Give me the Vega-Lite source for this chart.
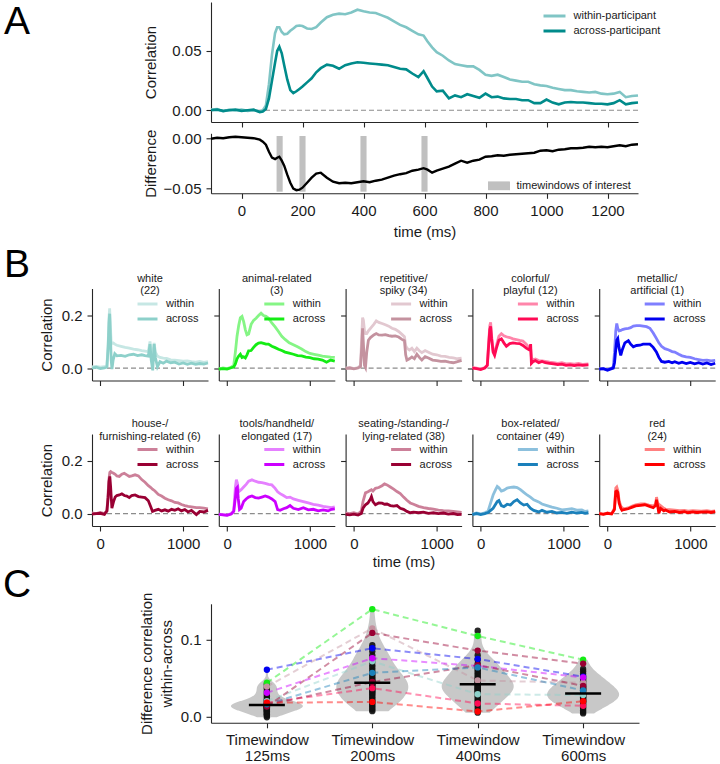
{
"$schema": "https://vega.github.io/schema/vega-lite/v6.json",
"padding": {"left": 2, "top": 2, "right": 0, "bottom": 0},
"background": "white",
"config": {
  "font": "Liberation Sans",
  "view": {"stroke": null},
  "axis": {"grid": false, "domainColor": "#262626", "tickColor": "#262626", "labelColor": "#1a1a1a", "titleColor": "#1a1a1a", "labelFontSize": 15, "titleFontSize": 15, "titleFontWeight": "normal", "tickSize": 5, "tickWidth": 1.1, "domainWidth": 1.1, "labelPadding": 5, "labelFlush": false, "labelOverlap": false, "labelBound": false},
  "legend": {"labelFontSize": 11, "labelColor": "#1a1a1a", "symbolStrokeWidth": 3, "rowPadding": 2, "labelOffset": 12, "padding": 0},
  "title": {"fontWeight": "normal", "color": "#1a1a1a"}
},
"datasets": {
  "a": [
    {"t":-100,"w":0.0005,"a":0.0,"d":0.0},{"t":-80,"w":0.001,"a":0.0005,"d":0.001},{"t":-60,"w":-0.001,"a":-0.0005,"d":0.0005},{"t":-40,"w":0.0005,"a":0.0,"d":0.0015},{"t":-20,"w":0.0,"a":0.0005,"d":0.002},{"t":0,"w":0.0005,"a":-0.0005,"d":0.0015},{"t":20,"w":-0.0005,"a":0.0,"d":0.001},{"t":40,"w":0.0,"a":0.0005,"d":0.0005},{"t":60,"w":-0.001,"a":-0.0015,"d":-0.001},{"t":70,"w":0.0,"a":-0.001,"d":-0.003},
    {"t":80,"w":0.004,"a":0.001,"d":-0.006},{"t":90,"w":0.022,"a":0.01,"d":-0.013},{"t":100,"w":0.047,"a":0.025,"d":-0.019},{"t":110,"w":0.065,"a":0.04,"d":-0.0205},{"t":117,"w":0.07,"a":0.05,"d":-0.019},{"t":124,"w":0.07,"a":0.0535,"d":-0.018},{"t":132,"w":0.066,"a":0.048,"d":-0.022},{"t":140,"w":0.064,"a":0.038,"d":-0.027},{"t":150,"w":0.0645,"a":0.026,"d":-0.036},{"t":160,"w":0.067,"a":0.017,"d":-0.044},
    {"t":170,"w":0.069,"a":0.0145,"d":-0.05},{"t":180,"w":0.071,"a":0.016,"d":-0.0515},{"t":190,"w":0.0715,"a":0.018,"d":-0.051},{"t":200,"w":0.071,"a":0.02,"d":-0.049},{"t":215,"w":0.069,"a":0.0235,"d":-0.044},{"t":230,"w":0.0685,"a":0.027,"d":-0.039},{"t":245,"w":0.07,"a":0.032,"d":-0.035},{"t":260,"w":0.074,"a":0.0355,"d":-0.034},{"t":280,"w":0.0785,"a":0.0385,"d":-0.039},{"t":300,"w":0.0805,"a":0.0375,"d":-0.043},
    {"t":320,"w":0.0815,"a":0.035,"d":-0.0445},{"t":340,"w":0.081,"a":0.038,"d":-0.044},{"t":360,"w":0.0825,"a":0.0395,"d":-0.0445},{"t":380,"w":0.0848,"a":0.0405,"d":-0.0435},{"t":400,"w":0.0835,"a":0.04,"d":-0.0425},{"t":420,"w":0.0825,"a":0.0395,"d":-0.0435},{"t":440,"w":0.082,"a":0.039,"d":-0.042},{"t":460,"w":0.08,"a":0.0385,"d":-0.041},{"t":480,"w":0.078,"a":0.038,"d":-0.039},{"t":500,"w":0.075,"a":0.0365,"d":-0.037},
    {"t":520,"w":0.072,"a":0.035,"d":-0.0355},{"t":540,"w":0.07,"a":0.0345,"d":-0.0345},{"t":560,"w":0.067,"a":0.031,"d":-0.032},{"t":580,"w":0.064,"a":0.028,"d":-0.031},{"t":597,"w":0.063,"a":0.033,"d":-0.0295},{"t":610,"w":0.058,"a":0.027,"d":-0.031},{"t":625,"w":0.053,"a":0.02,"d":-0.034},{"t":640,"w":0.049,"a":0.016,"d":-0.032},{"t":660,"w":0.046,"a":0.0165,"d":-0.03},{"t":680,"w":0.042,"a":0.01,"d":-0.028},
    {"t":700,"w":0.039,"a":0.0125,"d":-0.025},{"t":720,"w":0.038,"a":0.011,"d":-0.022},{"t":740,"w":0.037,"a":0.0135,"d":-0.024},{"t":760,"w":0.037,"a":0.012,"d":-0.022},{"t":780,"w":0.034,"a":0.0105,"d":-0.021},{"t":800,"w":0.03,"a":0.014,"d":-0.018},{"t":820,"w":0.029,"a":0.011,"d":-0.0175},{"t":840,"w":0.03,"a":0.0115,"d":-0.0165},{"t":860,"w":0.028,"a":0.01,"d":-0.017},{"t":880,"w":0.026,"a":0.0095,"d":-0.016},
    {"t":900,"w":0.025,"a":0.0095,"d":-0.0155},{"t":920,"w":0.024,"a":0.0085,"d":-0.015},{"t":940,"w":0.024,"a":0.0085,"d":-0.0145},{"t":960,"w":0.022,"a":0.006,"d":-0.014},{"t":980,"w":0.021,"a":0.006,"d":-0.012},{"t":1000,"w":0.0205,"a":0.009,"d":-0.0115},{"t":1020,"w":0.019,"a":0.0065,"d":-0.0125},{"t":1040,"w":0.018,"a":0.005,"d":-0.011},{"t":1060,"w":0.017,"a":0.0065,"d":-0.0105},{"t":1080,"w":0.017,"a":0.007,"d":-0.0095},
    {"t":1100,"w":0.016,"a":0.0065,"d":-0.0095},{"t":1120,"w":0.0155,"a":0.0065,"d":-0.009},{"t":1140,"w":0.015,"a":0.006,"d":-0.008},{"t":1160,"w":0.0155,"a":0.0055,"d":-0.0085},{"t":1180,"w":0.014,"a":0.0055,"d":-0.008},{"t":1200,"w":0.0135,"a":0.005,"d":-0.0085},{"t":1220,"w":0.014,"a":0.006,"d":-0.0075},{"t":1240,"w":0.0155,"a":0.0085,"d":-0.0065},{"t":1260,"w":0.011,"a":0.005,"d":-0.0075},{"t":1280,"w":0.012,"a":0.006,"d":-0.006},{"t":1300,"w":0.0125,"a":0.0065,"d":-0.0055}
  ],
  "tw": [
    {"s":115,"e":135,"k":"timewindows of interest"},{"s":190,"e":210,"k":"timewindows of interest"},{"s":390,"e":410,"k":"timewindows of interest"},{"s":590,"e":610,"k":"timewindows of interest"}
  ],
  "letters": [{"l":"A"},{"l":"B"},{"l":"C"}],
  "white": [
    {"t":-100,"w":0.004,"a":0.0},{"t":-50,"w":0.006,"a":0.003},{"t":0,"w":0.003,"a":-0.002},{"t":50,"w":0.005,"a":0.001},{"t":80,"w":0.008,"a":0.004},{"t":95,"w":0.09,"a":0.08},{"t":105,"w":0.19,"a":0.17},{"t":113,"w":0.225,"a":0.205},{"t":122,"w":0.16,"a":0.12},{"t":132,"w":0.09,"a":0.03},{"t":141,"w":0.095,"a":-0.004},{"t":155,"w":0.095,"a":0.03},{"t":175,"w":0.09,"a":0.054},{"t":200,"w":0.086,"a":0.046},{"t":250,"w":0.082,"a":0.048},{"t":300,"w":0.078,"a":0.044},{"t":350,"w":0.075,"a":0.05},{"t":400,"w":0.071,"a":0.052},{"t":450,"w":0.069,"a":0.047},{"t":500,"w":0.066,"a":0.05},{"t":540,"w":0.064,"a":0.047},{"t":580,"w":0.062,"a":0.045},{"t":600,"w":0.1,"a":0.09},{"t":615,"w":0.06,"a":0.03},{"t":633,"w":0.045,"a":-0.009},{"t":650,"w":0.095,"a":0.09},{"t":665,"w":0.06,"a":0.04},{"t":690,"w":0.045,"a":0.005},{"t":720,"w":0.04,"a":0.024},{"t":760,"w":0.037,"a":0.018},{"t":800,"w":0.036,"a":0.026},{"t":850,"w":0.031,"a":0.02},{"t":900,"w":0.03,"a":0.022},{"t":950,"w":0.028,"a":0.015},{"t":1000,"w":0.026,"a":0.019},{"t":1050,"w":0.027,"a":0.014},{"t":1100,"w":0.024,"a":0.018},{"t":1150,"w":0.022,"a":0.014},{"t":1200,"w":0.025,"a":0.017},{"t":1250,"w":0.021,"a":0.015},{"t":1300,"w":0.024,"a":0.019}
  ],
  "animal": [
    {"t":-100,"w":-0.004,"a":-0.004},{"t":-50,"w":0.0,"a":-0.002},{"t":0,"w":-0.002,"a":-0.004},{"t":50,"w":0.003,"a":0.001},{"t":80,"w":0.01,"a":0.004},{"t":100,"w":0.06,"a":0.015},{"t":120,"w":0.12,"a":0.035},{"t":140,"w":0.16,"a":0.045},{"t":160,"w":0.19,"a":0.052},{"t":180,"w":0.195,"a":0.04},{"t":200,"w":0.175,"a":0.042},{"t":220,"w":0.145,"a":0.038},{"t":240,"w":0.125,"a":0.05},{"t":260,"w":0.128,"a":0.065},{"t":290,"w":0.165,"a":0.066},{"t":320,"w":0.18,"a":0.078},{"t":350,"w":0.188,"a":0.088},{"t":380,"w":0.198,"a":0.094},{"t":410,"w":0.207,"a":0.096},{"t":440,"w":0.198,"a":0.093},{"t":470,"w":0.195,"a":0.09},{"t":500,"w":0.188,"a":0.09},{"t":540,"w":0.17,"a":0.082},{"t":580,"w":0.155,"a":0.077},{"t":620,"w":0.138,"a":0.071},{"t":660,"w":0.12,"a":0.066},{"t":700,"w":0.108,"a":0.06},{"t":750,"w":0.095,"a":0.056},{"t":800,"w":0.088,"a":0.052},{"t":850,"w":0.08,"a":0.047},{"t":900,"w":0.072,"a":0.046},{"t":950,"w":0.062,"a":0.041},{"t":1000,"w":0.055,"a":0.039},{"t":1050,"w":0.052,"a":0.035},{"t":1100,"w":0.049,"a":0.034},{"t":1150,"w":0.045,"a":0.03},{"t":1200,"w":0.043,"a":0.022},{"t":1250,"w":0.041,"a":0.03},{"t":1300,"w":0.04,"a":0.026}
  ],
  "repetitive": [
    {"t":-100,"w":0.0,"a":-0.002},{"t":-50,"w":0.002,"a":0.0},{"t":0,"w":-0.002,"a":-0.003},{"t":50,"w":0.002,"a":0.0},{"t":80,"w":0.01,"a":0.005},{"t":95,"w":0.12,"a":0.08},{"t":105,"w":0.19,"a":0.15},{"t":115,"w":0.18,"a":0.09},{"t":128,"w":0.14,"a":0.01},{"t":140,"w":0.13,"a":0.002},{"t":155,"w":0.13,"a":0.06},{"t":175,"w":0.14,"a":0.105},{"t":200,"w":0.15,"a":0.115},{"t":240,"w":0.165,"a":0.125},{"t":270,"w":0.178,"a":0.13},{"t":300,"w":0.172,"a":0.125},{"t":340,"w":0.168,"a":0.124},{"t":380,"w":0.163,"a":0.126},{"t":420,"w":0.158,"a":0.122},{"t":460,"w":0.15,"a":0.12},{"t":500,"w":0.146,"a":0.121},{"t":540,"w":0.138,"a":0.117},{"t":580,"w":0.127,"a":0.108},{"t":610,"w":0.118,"a":0.103},{"t":625,"w":0.085,"a":0.05},{"t":640,"w":0.075,"a":0.03},{"t":670,"w":0.068,"a":0.035},{"t":700,"w":0.075,"a":0.042},{"t":730,"w":0.062,"a":0.035},{"t":760,"w":0.075,"a":0.052},{"t":790,"w":0.065,"a":0.04},{"t":820,"w":0.058,"a":0.03},{"t":860,"w":0.066,"a":0.043},{"t":900,"w":0.06,"a":0.038},{"t":950,"w":0.052,"a":0.03},{"t":1000,"w":0.05,"a":0.028},{"t":1050,"w":0.045,"a":0.025},{"t":1100,"w":0.044,"a":0.026},{"t":1150,"w":0.04,"a":0.022},{"t":1200,"w":0.038,"a":0.02},{"t":1250,"w":0.035,"a":0.024},{"t":1300,"w":0.037,"a":0.029}
  ],
  "colorful": [
    {"t":-100,"w":0.002,"a":0.0},{"t":-50,"w":0.0,"a":-0.002},{"t":0,"w":-0.004,"a":-0.006},{"t":50,"w":0.002,"a":0.0},{"t":80,"w":0.012,"a":0.01},{"t":95,"w":0.09,"a":0.08},{"t":110,"w":0.16,"a":0.145},{"t":120,"w":0.172,"a":0.157},{"t":132,"w":0.12,"a":0.11},{"t":150,"w":0.065,"a":0.06},{"t":168,"w":0.056,"a":0.048},{"t":190,"w":0.085,"a":0.075},{"t":220,"w":0.12,"a":0.105},{"t":250,"w":0.13,"a":0.11},{"t":280,"w":0.122,"a":0.095},{"t":310,"w":0.118,"a":0.082},{"t":350,"w":0.115,"a":0.092},{"t":390,"w":0.11,"a":0.095},{"t":430,"w":0.107,"a":0.093},{"t":470,"w":0.104,"a":0.092},{"t":510,"w":0.102,"a":0.085},{"t":550,"w":0.09,"a":0.075},{"t":590,"w":0.075,"a":0.068},{"t":603,"w":0.072,"a":0.09},{"t":612,"w":0.04,"a":0.018},{"t":630,"w":0.03,"a":0.024},{"t":660,"w":0.034,"a":0.028},{"t":700,"w":0.028,"a":0.02},{"t":740,"w":0.027,"a":0.025},{"t":780,"w":0.025,"a":0.02},{"t":830,"w":0.022,"a":0.018},{"t":880,"w":0.02,"a":0.016},{"t":930,"w":0.018,"a":0.013},{"t":980,"w":0.02,"a":0.015},{"t":1030,"w":0.016,"a":0.01},{"t":1080,"w":0.017,"a":0.012},{"t":1130,"w":0.015,"a":0.009},{"t":1180,"w":0.017,"a":0.012},{"t":1230,"w":0.014,"a":0.01},{"t":1300,"w":0.016,"a":0.012}
  ],
  "metallic": [
    {"t":-100,"w":-0.003,"a":-0.004},{"t":-50,"w":-0.002,"a":-0.002},{"t":0,"w":-0.006,"a":-0.008},{"t":50,"w":0.0,"a":-0.002},{"t":70,"w":0.004,"a":0.0},{"t":85,"w":0.06,"a":0.02},{"t":100,"w":0.14,"a":0.07},{"t":112,"w":0.168,"a":0.105},{"t":124,"w":0.15,"a":0.111},{"t":140,"w":0.14,"a":0.075},{"t":160,"w":0.142,"a":0.048},{"t":180,"w":0.145,"a":0.07},{"t":210,"w":0.148,"a":0.095},{"t":252,"w":0.15,"a":0.103},{"t":280,"w":0.152,"a":0.09},{"t":312,"w":0.158,"a":0.08},{"t":350,"w":0.16,"a":0.085},{"t":392,"w":0.16,"a":0.086},{"t":430,"w":0.158,"a":0.09},{"t":472,"w":0.156,"a":0.09},{"t":512,"w":0.15,"a":0.09},{"t":552,"w":0.132,"a":0.078},{"t":590,"w":0.112,"a":0.061},{"t":620,"w":0.095,"a":0.04},{"t":652,"w":0.082,"a":0.025},{"t":692,"w":0.073,"a":0.022},{"t":740,"w":0.068,"a":0.025},{"t":780,"w":0.062,"a":0.02},{"t":812,"w":0.06,"a":0.024},{"t":860,"w":0.052,"a":0.018},{"t":900,"w":0.046,"a":0.022},{"t":950,"w":0.042,"a":0.017},{"t":1000,"w":0.04,"a":0.021},{"t":1052,"w":0.035,"a":0.016},{"t":1100,"w":0.032,"a":0.02},{"t":1150,"w":0.029,"a":0.015},{"t":1200,"w":0.03,"a":0.019},{"t":1250,"w":0.027,"a":0.013},{"t":1300,"w":0.029,"a":0.018}
  ],
  "house": [
    {"t":-100,"w":0.002,"a":-0.002},{"t":-50,"w":0.0,"a":0.0},{"t":0,"w":0.004,"a":0.001},{"t":50,"w":0.0,"a":-0.003},{"t":80,"w":0.01,"a":0.01},{"t":95,"w":0.08,"a":0.06},{"t":105,"w":0.13,"a":0.12},{"t":115,"w":0.155,"a":0.14},{"t":125,"w":0.158,"a":0.1},{"t":140,"w":0.155,"a":0.02},{"t":160,"w":0.152,"a":0.045},{"t":180,"w":0.148,"a":0.062},{"t":200,"w":0.142,"a":0.068},{"t":230,"w":0.14,"a":0.07},{"t":260,"w":0.148,"a":0.074},{"t":290,"w":0.152,"a":0.068},{"t":320,"w":0.146,"a":0.066},{"t":350,"w":0.14,"a":0.06},{"t":380,"w":0.142,"a":0.068},{"t":420,"w":0.146,"a":0.07},{"t":460,"w":0.142,"a":0.064},{"t":500,"w":0.128,"a":0.062},{"t":540,"w":0.118,"a":0.06},{"t":580,"w":0.105,"a":0.048},{"t":610,"w":0.098,"a":0.025},{"t":630,"w":0.092,"a":0.008},{"t":660,"w":0.085,"a":0.012},{"t":700,"w":0.072,"a":0.016},{"t":740,"w":0.066,"a":0.01},{"t":780,"w":0.058,"a":0.014},{"t":820,"w":0.052,"a":0.009},{"t":860,"w":0.048,"a":0.016},{"t":900,"w":0.042,"a":0.012},{"t":940,"w":0.04,"a":0.018},{"t":980,"w":0.034,"a":0.01},{"t":1020,"w":0.03,"a":0.015},{"t":1060,"w":0.027,"a":0.006},{"t":1100,"w":0.025,"a":0.012},{"t":1160,"w":0.022,"a":-0.004},{"t":1200,"w":0.022,"a":0.008},{"t":1250,"w":0.02,"a":0.006},{"t":1300,"w":0.018,"a":0.012}
  ],
  "tools": [
    {"t":-100,"w":-0.002,"a":-0.003},{"t":-50,"w":-0.004,"a":-0.005},{"t":0,"w":-0.006,"a":-0.007},{"t":50,"w":0.0,"a":-0.002},{"t":80,"w":0.01,"a":0.008},{"t":100,"w":0.1,"a":0.06},{"t":112,"w":0.128,"a":0.095},{"t":124,"w":0.115,"a":0.099},{"t":135,"w":0.09,"a":0.055},{"t":150,"w":0.085,"a":0.015},{"t":170,"w":0.09,"a":0.02},{"t":200,"w":0.1,"a":0.045},{"t":230,"w":0.11,"a":0.055},{"t":260,"w":0.122,"a":0.062},{"t":300,"w":0.127,"a":0.066},{"t":340,"w":0.122,"a":0.06},{"t":380,"w":0.118,"a":0.058},{"t":420,"w":0.117,"a":0.062},{"t":460,"w":0.114,"a":0.066},{"t":500,"w":0.11,"a":0.062},{"t":540,"w":0.108,"a":0.055},{"t":580,"w":0.095,"a":0.045},{"t":610,"w":0.082,"a":0.015},{"t":640,"w":0.075,"a":0.012},{"t":680,"w":0.068,"a":0.018},{"t":720,"w":0.06,"a":0.022},{"t":760,"w":0.062,"a":0.03},{"t":800,"w":0.055,"a":0.02},{"t":860,"w":0.05,"a":0.015},{"t":920,"w":0.045,"a":0.022},{"t":980,"w":0.04,"a":0.014},{"t":1040,"w":0.035,"a":0.016},{"t":1100,"w":0.032,"a":0.01},{"t":1160,"w":0.027,"a":0.014},{"t":1220,"w":0.024,"a":0.01},{"t":1260,"w":0.022,"a":0.016},{"t":1300,"w":0.025,"a":0.018}
  ],
  "seating": [
    {"t":-100,"w":0.002,"a":-0.003},{"t":-50,"w":0.0,"a":-0.005},{"t":0,"w":0.003,"a":-0.002},{"t":50,"w":-0.002,"a":-0.006},{"t":90,"w":0.01,"a":0.0},{"t":110,"w":0.045,"a":0.02},{"t":140,"w":0.078,"a":0.033},{"t":170,"w":0.082,"a":0.04},{"t":200,"w":0.088,"a":0.055},{"t":212,"w":0.09,"a":0.064},{"t":230,"w":0.085,"a":0.045},{"t":260,"w":0.095,"a":0.033},{"t":300,"w":0.098,"a":0.04},{"t":340,"w":0.105,"a":0.039},{"t":370,"w":0.112,"a":0.035},{"t":400,"w":0.108,"a":0.036},{"t":440,"w":0.1,"a":0.03},{"t":480,"w":0.092,"a":0.028},{"t":520,"w":0.083,"a":0.03},{"t":560,"w":0.075,"a":0.02},{"t":600,"w":0.062,"a":0.016},{"t":640,"w":0.05,"a":0.008},{"t":680,"w":0.04,"a":0.003},{"t":720,"w":0.035,"a":0.005},{"t":780,"w":0.027,"a":0.003},{"t":840,"w":0.022,"a":0.005},{"t":900,"w":0.019,"a":0.001},{"t":960,"w":0.017,"a":0.003},{"t":1020,"w":0.013,"a":0.0},{"t":1080,"w":0.011,"a":0.002},{"t":1140,"w":0.01,"a":-0.002},{"t":1200,"w":0.008,"a":0.0},{"t":1250,"w":0.006,"a":-0.004},{"t":1300,"w":0.004,"a":-0.003}
  ],
  "box": [
    {"t":-100,"w":-0.002,"a":-0.004},{"t":-50,"w":0.002,"a":0.0},{"t":0,"w":-0.001,"a":-0.004},{"t":50,"w":0.003,"a":0.0},{"t":90,"w":0.01,"a":0.004},{"t":120,"w":0.04,"a":0.012},{"t":150,"w":0.07,"a":0.02},{"t":180,"w":0.09,"a":0.035},{"t":200,"w":0.102,"a":0.045},{"t":220,"w":0.097,"a":0.049},{"t":250,"w":0.085,"a":0.03},{"t":280,"w":0.088,"a":0.026},{"t":320,"w":0.096,"a":0.035},{"t":360,"w":0.099,"a":0.032},{"t":400,"w":0.1,"a":0.045},{"t":440,"w":0.098,"a":0.052},{"t":480,"w":0.09,"a":0.04},{"t":520,"w":0.08,"a":0.032},{"t":560,"w":0.07,"a":0.035},{"t":600,"w":0.062,"a":0.02},{"t":640,"w":0.052,"a":0.012},{"t":700,"w":0.044,"a":0.006},{"t":740,"w":0.036,"a":0.012},{"t":800,"w":0.03,"a":0.005},{"t":860,"w":0.024,"a":0.008},{"t":920,"w":0.02,"a":0.002},{"t":980,"w":0.014,"a":0.004},{"t":1040,"w":0.016,"a":0.001},{"t":1100,"w":0.018,"a":0.005},{"t":1160,"w":0.013,"a":0.002},{"t":1220,"w":0.014,"a":0.004},{"t":1260,"w":0.008,"a":0.001},{"t":1300,"w":0.01,"a":0.003}
  ],
  "red": [
    {"t":-100,"w":0.002,"a":0.0},{"t":-50,"w":-0.002,"a":-0.003},{"t":0,"w":0.002,"a":0.001},{"t":50,"w":0.0,"a":-0.002},{"t":84,"w":0.02,"a":0.015},{"t":100,"w":0.096,"a":0.083},{"t":112,"w":0.1,"a":0.085},{"t":124,"w":0.088,"a":0.08},{"t":140,"w":0.05,"a":0.04},{"t":160,"w":0.028,"a":0.02},{"t":175,"w":0.022,"a":0.012},{"t":200,"w":0.018,"a":0.015},{"t":250,"w":0.021,"a":0.018},{"t":300,"w":0.028,"a":0.024},{"t":340,"w":0.033,"a":0.029},{"t":400,"w":0.036,"a":0.031},{"t":450,"w":0.036,"a":0.033},{"t":500,"w":0.032,"a":0.028},{"t":552,"w":0.029,"a":0.022},{"t":580,"w":0.035,"a":0.03},{"t":592,"w":0.062,"a":0.052},{"t":605,"w":0.04,"a":0.03},{"t":620,"w":0.035,"a":0.001},{"t":640,"w":0.03,"a":0.02},{"t":680,"w":0.02,"a":0.01},{"t":700,"w":0.016,"a":0.013},{"t":750,"w":0.015,"a":0.006},{"t":812,"w":0.013,"a":0.008},{"t":870,"w":0.011,"a":0.004},{"t":930,"w":0.012,"a":0.007},{"t":972,"w":0.009,"a":0.003},{"t":1030,"w":0.011,"a":0.006},{"t":1080,"w":0.01,"a":0.004},{"t":1132,"w":0.009,"a":0.005},{"t":1200,"w":0.011,"a":0.006},{"t":1250,"w":0.008,"a":0.004},{"t":1300,"w":0.01,"a":0.007}
  ],
  "c": [
    {"d":"white","win":125,"v":0.020},{"d":"white","win":200,"v":0.072},{"d":"white","win":400,"v":0.029},{"d":"white","win":600,"v":0.028},
    {"d":"animal","win":125,"v":0.044},{"d":"animal","win":200,"v":0.140},{"d":"animal","win":400,"v":0.105},{"d":"animal","win":600,"v":0.074},
    {"d":"repetitive","win":125,"v":0.039},{"d":"repetitive","win":200,"v":0.115},{"d":"repetitive","win":400,"v":0.047},{"d":"repetitive","win":600,"v":0.044},
    {"d":"colorful","win":125,"v":0.018},{"d":"colorful","win":200,"v":0.037},{"d":"colorful","win":400,"v":0.017},{"d":"colorful","win":600,"v":0.014},
    {"d":"metallic","win":125,"v":0.061},{"d":"metallic","win":200,"v":0.089},{"d":"metallic","win":400,"v":0.075},{"d":"metallic","win":600,"v":0.052},
    {"d":"house","win":125,"v":0.013},{"d":"house","win":200,"v":0.109},{"d":"house","win":400,"v":0.086},{"d":"house","win":600,"v":0.069},
    {"d":"tools","win":125,"v":0.031},{"d":"tools","win":200,"v":0.076},{"d":"tools","win":400,"v":0.066},{"d":"tools","win":600,"v":0.051},
    {"d":"seating","win":125,"v":0.015},{"d":"seating","win":200,"v":0.045},{"d":"seating","win":400,"v":0.067},{"d":"seating","win":600,"v":0.040},
    {"d":"box","win":125,"v":0.016},{"d":"box","win":200,"v":0.057},{"d":"box","win":400,"v":0.064},{"d":"box","win":600,"v":0.034},
    {"d":"red","win":125,"v":0.018},{"d":"red","win":200,"v":0.019},{"d":"red","win":400,"v":0.0065},{"d":"red","win":600,"v":0.020},
    {"win":125,"v":-0.001},{"win":125,"v":0.001},{"win":125,"v":0.002},{"win":125,"v":0.003},{"win":125,"v":0.004},{"win":125,"v":0.005},{"win":125,"v":0.006},{"win":125,"v":0.007},{"win":125,"v":0.008},{"win":125,"v":0.008},{"win":125,"v":0.009},{"win":125,"v":0.010},{"win":125,"v":0.010},{"win":125,"v":0.011},{"win":125,"v":0.011},{"win":125,"v":0.012},{"win":125,"v":0.012},{"win":125,"v":0.013},{"win":125,"v":0.013},{"win":125,"v":0.014},{"win":125,"v":0.014},{"win":125,"v":0.014},{"win":125,"v":0.015},{"win":125,"v":0.016},{"win":125,"v":0.017},{"win":125,"v":0.018},{"win":125,"v":0.019},{"win":125,"v":0.020},{"win":125,"v":0.021},{"win":125,"v":0.022},{"win":125,"v":0.024},{"win":125,"v":0.026},{"win":125,"v":0.028},{"win":125,"v":0.030},{"win":125,"v":0.033},{"win":125,"v":0.036},{"win":125,"v":0.038},{"win":125,"v":0.041},{"win":125,"v":0.043},
    {"win":200,"v":0.007},{"win":200,"v":0.009},{"win":200,"v":0.011},{"win":200,"v":0.013},{"win":200,"v":0.015},{"win":200,"v":0.017},{"win":200,"v":0.019},{"win":200,"v":0.021},{"win":200,"v":0.023},{"win":200,"v":0.025},{"win":200,"v":0.027},{"win":200,"v":0.029},{"win":200,"v":0.031},{"win":200,"v":0.032},{"win":200,"v":0.034},{"win":200,"v":0.035},{"win":200,"v":0.037},{"win":200,"v":0.038},{"win":200,"v":0.040},{"win":200,"v":0.041},{"win":200,"v":0.042},{"win":200,"v":0.043},{"win":200,"v":0.044},{"win":200,"v":0.046},{"win":200,"v":0.047},{"win":200,"v":0.049},{"win":200,"v":0.051},{"win":200,"v":0.053},{"win":200,"v":0.055},{"win":200,"v":0.058},{"win":200,"v":0.061},{"win":200,"v":0.064},{"win":200,"v":0.067},{"win":200,"v":0.071},{"win":200,"v":0.075},{"win":200,"v":0.080},{"win":200,"v":0.085},{"win":200,"v":0.089},{"win":200,"v":0.093},
    {"win":400,"v":0.005},{"win":400,"v":0.008},{"win":400,"v":0.011},{"win":400,"v":0.014},{"win":400,"v":0.017},{"win":400,"v":0.020},{"win":400,"v":0.022},{"win":400,"v":0.024},{"win":400,"v":0.026},{"win":400,"v":0.028},{"win":400,"v":0.030},{"win":400,"v":0.032},{"win":400,"v":0.033},{"win":400,"v":0.034},{"win":400,"v":0.035},{"win":400,"v":0.036},{"win":400,"v":0.037},{"win":400,"v":0.038},{"win":400,"v":0.039},{"win":400,"v":0.040},{"win":400,"v":0.041},{"win":400,"v":0.042},{"win":400,"v":0.043},{"win":400,"v":0.044},{"win":400,"v":0.045},{"win":400,"v":0.046},{"win":400,"v":0.048},{"win":400,"v":0.050},{"win":400,"v":0.052},{"win":400,"v":0.054},{"win":400,"v":0.056},{"win":400,"v":0.058},{"win":400,"v":0.060},{"win":400,"v":0.062},{"win":400,"v":0.065},{"win":400,"v":0.069},{"win":400,"v":0.074},{"win":400,"v":0.080},{"win":400,"v":0.112},
    {"win":600,"v":0.004},{"win":600,"v":0.006},{"win":600,"v":0.008},{"win":600,"v":0.010},{"win":600,"v":0.012},{"win":600,"v":0.014},{"win":600,"v":0.016},{"win":600,"v":0.018},{"win":600,"v":0.019},{"win":600,"v":0.020},{"win":600,"v":0.021},{"win":600,"v":0.022},{"win":600,"v":0.023},{"win":600,"v":0.024},{"win":600,"v":0.025},{"win":600,"v":0.026},{"win":600,"v":0.027},{"win":600,"v":0.028},{"win":600,"v":0.0285},{"win":600,"v":0.029},{"win":600,"v":0.0295},{"win":600,"v":0.030},{"win":600,"v":0.033},{"win":600,"v":0.034},{"win":600,"v":0.035},{"win":600,"v":0.036},{"win":600,"v":0.037},{"win":600,"v":0.038},{"win":600,"v":0.039},{"win":600,"v":0.040},{"win":600,"v":0.042},{"win":600,"v":0.044},{"win":600,"v":0.046},{"win":600,"v":0.048},{"win":600,"v":0.050},{"win":600,"v":0.053},{"win":600,"v":0.056},{"win":600,"v":0.059},{"win":600,"v":0.062}
  ]
},
"hconcat": [
  {
    "vconcat": [
      {"width": 30, "height": 39.6, "data": {"name": "letters"}, "transform": [{"filter": "datum.l == 'A'"}], "mark": {"type": "text", "fontSize": 39, "align": "center", "baseline": "middle", "color": "black"}, "encoding": {"text": {"field": "l"}}},
      {"width": 30, "height": 446.4, "data": {"name": "letters"}, "transform": [{"filter": "datum.l == 'B'"}], "mark": {"type": "text", "fontSize": 39, "align": "center", "baseline": "middle", "color": "black"}, "encoding": {"text": {"field": "l"}}},
      {"width": 30, "height": 191.6, "data": {"name": "letters"}, "transform": [{"filter": "datum.l == 'C'"}], "mark": {"type": "text", "fontSize": 39, "align": "center", "baseline": "middle", "color": "black"}, "encoding": {"text": {"field": "l"}}}
    ],
    "spacing": 0
  },
  {
    "vconcat": [
      {
        "hconcat": [
          {"width": 51, "height": 1, "data": {"values": [{}]}, "mark": {"type": "point", "opacity": 0, "size": 0}},
          {
            "vconcat": [
              {
                "width": 427, "height": 120,
                "layer": [
                  {"data": {"values": [{}]}, "mark": {"type": "rule", "strokeDash": [5, 3], "color": "#8c8c8c", "strokeWidth": 1.2}, "encoding": {"y": {"datum": 0, "type": "quantitative", "scale": {"domain": [-0.0099, 0.0913], "nice": false, "zero": false}}}},
                  {"data": {"name": "a"}, "transform": [{"fold": ["w", "a"], "as": ["s", "r"]}],
                   "mark": {"type": "line", "strokeWidth": 2.6},
                   "encoding": {
                     "x": {"field": "t", "type": "quantitative", "scale": {"domain": [-100, 1300], "nice": false}, "axis": {"values": [0, 200, 400, 600, 800, 1000, 1200], "labels": false, "title": null}},
                     "y": {"field": "r", "type": "quantitative", "scale": {"domain": [-0.0099, 0.0913], "nice": false, "zero": false}, "axis": {"values": [0, 0.05], "format": ".2f", "title": "Correlation", "titlePadding": 13.3}},
                     "color": {"field": "s", "type": "nominal", "scale": {"domain": ["w", "a"], "range": ["#80c5c5", "#008b8b"]}, "legend": {"title": null, "orient": "none", "legendX": 336.5, "legendY": 7, "symbolType": "M-2,0H2", "symbolSize": 121, "labelExpr": "datum.label == 'w' ? 'within-participant' : 'across-participant'"}}
                   }}
                ]
              },
              {
                "width": 427, "height": 60,
                "layer": [
                  {"data": {"name": "tw"}, "mark": {"type": "rect"},
                   "encoding": {
                     "x": {"field": "s", "type": "quantitative", "scale": {"domain": [-100, 1300], "nice": false}, "axis": {"values": [0, 200, 400, 600, 800, 1000, 1200], "format": "d", "title": "time (ms)", "titlePadding": 6}},
                     "x2": {"field": "e"},
                     "y": {"datum": 0.0027, "type": "quantitative", "scale": {"domain": [-0.0546, 0.0054], "nice": false, "zero": false}},
                     "y2": {"datum": -0.053},
                     "color": {"field": "k", "type": "nominal", "scale": {"range": ["#c0c0c0"]}, "legend": {"title": null, "orient": "none", "legendX": 282.5, "legendY": 47, "symbolType": "M-2,-0.8H2V0.8H-2Z", "symbolSize": 121, "symbolStrokeWidth": 0}}
                   }},
                  {"data": {"name": "a"}, "mark": {"type": "line", "color": "black", "strokeWidth": 2.4},
                   "encoding": {
                     "x": {"field": "t", "type": "quantitative", "title": "time (ms)", "scale": {"domain": [-100, 1300], "nice": false}},
                     "y": {"field": "d", "type": "quantitative", "scale": {"domain": [-0.0546, 0.0054], "nice": false, "zero": false}, "axis": {"values": [0, -0.05], "labelExpr": "replace(format(datum.value, '.2f'), '-', '\u2212')", "title": "Difference", "titlePadding": 4.5}}
                   }}
                ]
              }
            ],
            "spacing": 11.3, "bounds": "flush",
            "resolve": {"scale": {"color": "independent", "x": "independent", "y": "independent"}, "legend": {"color": "independent"}}
          }
        ],
        "spacing": 0,
        "resolve": {"scale": {"color": "independent", "x": "independent", "y": "independent"}, "legend": {"color": "independent"}}
      },
      {
        "vconcat": [
          {
            "vconcat": [
              {
                "hconcat": [
                  {"width": 116, "height": 92, "title": {"text": ["white", "(22)"], "fontSize": 11, "lineHeight": 12.3, "offset": -18.6, "anchor": "middle", "baseline": "bottom"},
                   "layer": [
                     {"data": {"values": [{}]}, "mark": {"type": "rule", "strokeDash": [5, 3], "color": "#8c8c8c", "strokeWidth": 1.2}, "encoding": {"y": {"datum": 0, "type": "quantitative", "scale": {"domain": [-0.047, 0.3], "nice": false}}}},
                     {"data": {"name": "white"}, "transform": [{"fold": ["w", "a"], "as": ["s", "r"]}], "mark": {"type": "line", "strokeWidth": 2.8},
                      "encoding": {
                        "x": {"field": "t", "type": "quantitative", "scale": {"domain": [-100, 1300], "nice": false}, "axis": {"values": [0, 1000], "labels": false, "title": null}},
                        "y": {"field": "r", "type": "quantitative", "scale": {"domain": [-0.047, 0.3], "nice": false}, "axis": {"values": [0, 0.2], "format": ".1f", "title": "Correlation", "titlePadding": 7}},
                        "color": {"field": "s", "type": "nominal", "scale": {"domain": ["w", "a"], "range": ["#c6e7e4", "#8dd0ca"]}, "legend": {"title": null, "orient": "top-right", "offset": 9, "symbolType": "M-2,0H2", "symbolSize": 100, "labelExpr": "datum.label == 'w' ? 'within' : 'across'"}}
                      }}
                   ]},
                  {"width": 116, "height": 92, "title": {"text": ["animal-related", "(3)"], "fontSize": 11, "lineHeight": 12.3, "offset": -18.6, "anchor": "middle", "baseline": "bottom"},
                   "layer": [
                     {"data": {"values": [{}]}, "mark": {"type": "rule", "strokeDash": [5, 3], "color": "#8c8c8c", "strokeWidth": 1.2}, "encoding": {"y": {"datum": 0, "type": "quantitative", "scale": {"domain": [-0.047, 0.3], "nice": false}}}},
                     {"data": {"name": "animal"}, "transform": [{"fold": ["w", "a"], "as": ["s", "r"]}], "mark": {"type": "line", "strokeWidth": 2.8},
                      "encoding": {
                        "x": {"field": "t", "type": "quantitative", "scale": {"domain": [-100, 1300], "nice": false}, "axis": {"values": [0, 1000], "labels": false, "title": null}},
                        "y": {"field": "r", "type": "quantitative", "scale": {"domain": [-0.047, 0.3], "nice": false}, "axis": {"values": [0, 0.2], "labels": false, "title": null}},
                        "color": {"field": "s", "type": "nominal", "scale": {"domain": ["w", "a"], "range": ["#85f585", "#14ec14"]}, "legend": {"title": null, "orient": "top-right", "offset": 9, "symbolType": "M-2,0H2", "symbolSize": 100, "labelExpr": "datum.label == 'w' ? 'within' : 'across'"}}
                      }}
                   ]},
                  {"width": 116, "height": 92, "title": {"text": ["repetitive/", "spiky (34)"], "fontSize": 11, "lineHeight": 12.3, "offset": -18.6, "anchor": "middle", "baseline": "bottom"},
                   "layer": [
                     {"data": {"values": [{}]}, "mark": {"type": "rule", "strokeDash": [5, 3], "color": "#8c8c8c", "strokeWidth": 1.2}, "encoding": {"y": {"datum": 0, "type": "quantitative", "scale": {"domain": [-0.047, 0.3], "nice": false}}}},
                     {"data": {"name": "repetitive"}, "transform": [{"fold": ["w", "a"], "as": ["s", "r"]}], "mark": {"type": "line", "strokeWidth": 2.8},
                      "encoding": {
                        "x": {"field": "t", "type": "quantitative", "scale": {"domain": [-100, 1300], "nice": false}, "axis": {"values": [0, 1000], "labels": false, "title": null}},
                        "y": {"field": "r", "type": "quantitative", "scale": {"domain": [-0.047, 0.3], "nice": false}, "axis": {"values": [0, 0.2], "labels": false, "title": null}},
                        "color": {"field": "s", "type": "nominal", "scale": {"domain": ["w", "a"], "range": ["#e2c8d0", "#c4929f"]}, "legend": {"title": null, "orient": "top-right", "offset": 9, "symbolType": "M-2,0H2", "symbolSize": 100, "labelExpr": "datum.label == 'w' ? 'within' : 'across'"}}
                      }}
                   ]},
                  {"width": 116, "height": 92, "title": {"text": ["colorful/", "playful (12)"], "fontSize": 11, "lineHeight": 12.3, "offset": -18.6, "anchor": "middle", "baseline": "bottom"},
                   "layer": [
                     {"data": {"values": [{}]}, "mark": {"type": "rule", "strokeDash": [5, 3], "color": "#8c8c8c", "strokeWidth": 1.2}, "encoding": {"y": {"datum": 0, "type": "quantitative", "scale": {"domain": [-0.047, 0.3], "nice": false}}}},
                     {"data": {"name": "colorful"}, "transform": [{"fold": ["w", "a"], "as": ["s", "r"]}], "mark": {"type": "line", "strokeWidth": 2.8},
                      "encoding": {
                        "x": {"field": "t", "type": "quantitative", "scale": {"domain": [-100, 1300], "nice": false}, "axis": {"values": [0, 1000], "labels": false, "title": null}},
                        "y": {"field": "r", "type": "quantitative", "scale": {"domain": [-0.047, 0.3], "nice": false}, "axis": {"values": [0, 0.2], "labels": false, "title": null}},
                        "color": {"field": "s", "type": "nominal", "scale": {"domain": ["w", "a"], "range": ["#ff85aa", "#ff0a54"]}, "legend": {"title": null, "orient": "top-right", "offset": 9, "symbolType": "M-2,0H2", "symbolSize": 100, "labelExpr": "datum.label == 'w' ? 'within' : 'across'"}}
                      }}
                   ]},
                  {"width": 116, "height": 92, "title": {"text": ["metallic/", "artificial (1)"], "fontSize": 11, "lineHeight": 12.3, "offset": -18.6, "anchor": "middle", "baseline": "bottom"},
                   "layer": [
                     {"data": {"values": [{}]}, "mark": {"type": "rule", "strokeDash": [5, 3], "color": "#8c8c8c", "strokeWidth": 1.2}, "encoding": {"y": {"datum": 0, "type": "quantitative", "scale": {"domain": [-0.047, 0.3], "nice": false}}}},
                     {"data": {"name": "metallic"}, "transform": [{"fold": ["w", "a"], "as": ["s", "r"]}], "mark": {"type": "line", "strokeWidth": 2.8},
                      "encoding": {
                        "x": {"field": "t", "type": "quantitative", "scale": {"domain": [-100, 1300], "nice": false}, "axis": {"values": [0, 1000], "labels": false, "title": null}},
                        "y": {"field": "r", "type": "quantitative", "scale": {"domain": [-0.047, 0.3], "nice": false}, "axis": {"values": [0, 0.2], "labels": false, "title": null}},
                        "color": {"field": "s", "type": "nominal", "scale": {"domain": ["w", "a"], "range": ["#7f7fff", "#0000f0"]}, "legend": {"title": null, "orient": "top-right", "offset": 9, "symbolType": "M-2,0H2", "symbolSize": 100, "labelExpr": "datum.label == 'w' ? 'within' : 'across'"}}
                      }}
                   ]}
                ],
                "spacing": 10.8, "bounds": "flush",
                "resolve": {"scale": {"color": "independent", "x": "independent", "y": "independent"}, "legend": {"color": "independent"}}
              },
              {
                "hconcat": [
                  {"width": 116, "height": 92, "title": {"text": ["house-/", "furnishing-related (6)"], "fontSize": 11, "lineHeight": 12.3, "offset": -18.6, "anchor": "middle", "baseline": "bottom"},
                   "layer": [
                     {"data": {"values": [{}]}, "mark": {"type": "rule", "strokeDash": [5, 3], "color": "#8c8c8c", "strokeWidth": 1.2}, "encoding": {"y": {"datum": 0, "type": "quantitative", "scale": {"domain": [-0.047, 0.3], "nice": false}}}},
                     {"data": {"name": "house"}, "transform": [{"fold": ["w", "a"], "as": ["s", "r"]}], "mark": {"type": "line", "strokeWidth": 2.8},
                      "encoding": {
                        "x": {"field": "t", "type": "quantitative", "scale": {"domain": [-100, 1300], "nice": false}, "axis": {"values": [0, 1000], "format": "d", "title": null}},
                        "y": {"field": "r", "type": "quantitative", "scale": {"domain": [-0.047, 0.3], "nice": false}, "axis": {"values": [0, 0.2], "format": ".1f", "title": "Correlation", "titlePadding": 7}},
                        "color": {"field": "s", "type": "nominal", "scale": {"domain": ["w", "a"], "range": ["#cc8099", "#990033"]}, "legend": {"title": null, "orient": "top-right", "offset": 9, "symbolType": "M-2,0H2", "symbolSize": 100, "labelExpr": "datum.label == 'w' ? 'within' : 'across'"}}
                      }}
                   ]},
                  {"width": 116, "height": 92, "title": {"text": ["tools/handheld/", "elongated (17)"], "fontSize": 11, "lineHeight": 12.3, "offset": -18.6, "anchor": "middle", "baseline": "bottom"},
                   "layer": [
                     {"data": {"values": [{}]}, "mark": {"type": "rule", "strokeDash": [5, 3], "color": "#8c8c8c", "strokeWidth": 1.2}, "encoding": {"y": {"datum": 0, "type": "quantitative", "scale": {"domain": [-0.047, 0.3], "nice": false}}}},
                     {"data": {"name": "tools"}, "transform": [{"fold": ["w", "a"], "as": ["s", "r"]}], "mark": {"type": "line", "strokeWidth": 2.8},
                      "encoding": {
                        "x": {"field": "t", "type": "quantitative", "scale": {"domain": [-100, 1300], "nice": false}, "axis": {"values": [0, 1000], "format": "d", "title": null}},
                        "y": {"field": "r", "type": "quantitative", "scale": {"domain": [-0.047, 0.3], "nice": false}, "axis": {"values": [0, 0.2], "labels": false, "title": null}},
                        "color": {"field": "s", "type": "nominal", "scale": {"domain": ["w", "a"], "range": ["#e580ff", "#cc00ff"]}, "legend": {"title": null, "orient": "top-right", "offset": 9, "symbolType": "M-2,0H2", "symbolSize": 100, "labelExpr": "datum.label == 'w' ? 'within' : 'across'"}}
                      }}
                   ]},
                  {"width": 116, "height": 92, "title": {"text": ["seating-/standing-/", "lying-related (38)"], "fontSize": 11, "lineHeight": 12.3, "offset": -18.6, "anchor": "middle", "baseline": "bottom"},
                   "layer": [
                     {"data": {"values": [{}]}, "mark": {"type": "rule", "strokeDash": [5, 3], "color": "#8c8c8c", "strokeWidth": 1.2}, "encoding": {"y": {"datum": 0, "type": "quantitative", "scale": {"domain": [-0.047, 0.3], "nice": false}}}},
                     {"data": {"name": "seating"}, "transform": [{"fold": ["w", "a"], "as": ["s", "r"]}], "mark": {"type": "line", "strokeWidth": 2.8},
                      "encoding": {
                        "x": {"field": "t", "type": "quantitative", "scale": {"domain": [-100, 1300], "nice": false}, "axis": {"values": [0, 1000], "format": "d", "title": "time (ms)", "titlePadding": 3}},
                        "y": {"field": "r", "type": "quantitative", "scale": {"domain": [-0.047, 0.3], "nice": false}, "axis": {"values": [0, 0.2], "labels": false, "title": null}},
                        "color": {"field": "s", "type": "nominal", "scale": {"domain": ["w", "a"], "range": ["#cc8099", "#990033"]}, "legend": {"title": null, "orient": "top-right", "offset": 9, "symbolType": "M-2,0H2", "symbolSize": 100, "labelExpr": "datum.label == 'w' ? 'within' : 'across'"}}
                      }}
                   ]},
                  {"width": 116, "height": 92, "title": {"text": ["box-related/", "container (49)"], "fontSize": 11, "lineHeight": 12.3, "offset": -18.6, "anchor": "middle", "baseline": "bottom"},
                   "layer": [
                     {"data": {"values": [{}]}, "mark": {"type": "rule", "strokeDash": [5, 3], "color": "#8c8c8c", "strokeWidth": 1.2}, "encoding": {"y": {"datum": 0, "type": "quantitative", "scale": {"domain": [-0.047, 0.3], "nice": false}}}},
                     {"data": {"name": "box"}, "transform": [{"fold": ["w", "a"], "as": ["s", "r"]}], "mark": {"type": "line", "strokeWidth": 2.8},
                      "encoding": {
                        "x": {"field": "t", "type": "quantitative", "scale": {"domain": [-100, 1300], "nice": false}, "axis": {"values": [0, 1000], "format": "d", "title": null}},
                        "y": {"field": "r", "type": "quantitative", "scale": {"domain": [-0.047, 0.3], "nice": false}, "axis": {"values": [0, 0.2], "labels": false, "title": null}},
                        "color": {"field": "s", "type": "nominal", "scale": {"domain": ["w", "a"], "range": ["#8cc0dd", "#1a80bb"]}, "legend": {"title": null, "orient": "top-right", "offset": 9, "symbolType": "M-2,0H2", "symbolSize": 100, "labelExpr": "datum.label == 'w' ? 'within' : 'across'"}}
                      }}
                   ]},
                  {"width": 116, "height": 92, "title": {"text": ["red", "(24)"], "fontSize": 11, "lineHeight": 12.3, "offset": -18.6, "anchor": "middle", "baseline": "bottom"},
                   "layer": [
                     {"data": {"values": [{}]}, "mark": {"type": "rule", "strokeDash": [5, 3], "color": "#8c8c8c", "strokeWidth": 1.2}, "encoding": {"y": {"datum": 0, "type": "quantitative", "scale": {"domain": [-0.047, 0.3], "nice": false}}}},
                     {"data": {"name": "red"}, "transform": [{"fold": ["w", "a"], "as": ["s", "r"]}], "mark": {"type": "line", "strokeWidth": 2.8},
                      "encoding": {
                        "x": {"field": "t", "type": "quantitative", "scale": {"domain": [-100, 1300], "nice": false}, "axis": {"values": [0, 1000], "format": "d", "title": null}},
                        "y": {"field": "r", "type": "quantitative", "scale": {"domain": [-0.047, 0.3], "nice": false}, "axis": {"values": [0, 0.2], "labels": false, "title": null}},
                        "color": {"field": "s", "type": "nominal", "scale": {"domain": ["w", "a"], "range": ["#ff8080", "#ff0000"]}, "legend": {"title": null, "orient": "top-right", "offset": 9, "symbolType": "M-2,0H2", "symbolSize": 100, "labelExpr": "datum.label == 'w' ? 'within' : 'across'"}}
                      }}
                   ]}
                ],
                "spacing": 10.8, "bounds": "flush",
                "resolve": {"scale": {"color": "independent", "x": "independent", "y": "independent"}, "legend": {"color": "independent"}}
              }
            ],
            "spacing": 31.5,
            "resolve": {"scale": {"color": "independent", "x": "independent", "y": "independent"}, "legend": {"color": "independent"}}
          },
          {
            "hconcat": [
              {"width": 46.7, "height": 1, "data": {"values": [{}]}, "mark": {"type": "point", "opacity": 0, "size": 0}},
              {
                "width": 428, "height": 119,
                "data": {"name": "c"},
                "encoding": {"y": {"field": "v", "type": "quantitative", "title": ["Difference correlation", "within-across"], "scale": {"domain": [-0.0082, 0.147], "nice": false, "zero": false}, "axis": {"values": [0, 0.1], "format": ".1f", "titlePadding": 5.3, "titleLineHeight": 20}}},
                "layer": [
                  {"transform": [{"filter": "datum.win == 125"}, {"density": "v", "extent": [-0.001, 0.061], "as": ["v", "density"]}], "mark": {"type": "area", "orient": "horizontal", "color": "#c8c8c8"}, "encoding": {"x": {"field": "density", "type": "quantitative", "stack": "center", "scale": {"range": [19.9, 91.9], "nice": false}, "axis": null}}},
                  {"transform": [{"filter": "datum.win == 200"}, {"density": "v", "extent": [0.007, 0.14], "as": ["v", "density"]}], "mark": {"type": "area", "orient": "horizontal", "color": "#c8c8c8"}, "encoding": {"x": {"field": "density", "type": "quantitative", "stack": "center", "scale": {"range": [125.3, 197.3], "nice": false}, "axis": null}}},
                  {"transform": [{"filter": "datum.win == 400"}, {"density": "v", "extent": [0.005, 0.112], "as": ["v", "density"]}], "mark": {"type": "area", "orient": "horizontal", "color": "#c8c8c8"}, "encoding": {"x": {"field": "density", "type": "quantitative", "stack": "center", "scale": {"range": [230.7, 302.7], "nice": false}, "axis": null}}},
                  {"transform": [{"filter": "datum.win == 600"}, {"density": "v", "extent": [0.004, 0.074], "as": ["v", "density"]}], "mark": {"type": "area", "orient": "horizontal", "color": "#c8c8c8"}, "encoding": {"x": {"field": "density", "type": "quantitative", "stack": "center", "scale": {"range": [336.1, 408.1], "nice": false}, "axis": null}}},
                  {"transform": [{"filter": "isValid(datum.d)"}], "mark": {"type": "line", "strokeDash": [6, 4], "strokeWidth": 2, "opacity": 0.45},
                   "encoding": {
                     "x": {"field": "win", "type": "ordinal", "scale": {"type": "point", "domain": [125, 200, 400, 600], "padding": 0.53}, "axis": null},
                     "color": {"field": "d", "type": "nominal", "scale": {"domain": ["white", "animal", "repetitive", "colorful", "metallic", "house", "tools", "seating", "box", "red"], "range": ["#8dd0ca", "#14ec14", "#c4929f", "#ff0a54", "#0000f0", "#990033", "#cc00ff", "#990033", "#1a80bb", "#ff0000"]}, "legend": null}
                   }},
                  {"transform": [{"filter": "!isValid(datum.d)"}], "mark": {"type": "circle", "size": 40, "color": "#111111", "opacity": 0.9},
                   "encoding": {
                     "x": {"field": "win", "type": "ordinal", "scale": {"type": "point", "domain": [125, 200, 400, 600], "padding": 0.53}, "axis": {"orient": "bottom", "title": null, "labelAngle": 0, "labelExpr": "['Timewindow', datum.value + 'ms']", "labelLineHeight": 16}}
                   }},
                  {"transform": [{"filter": "isValid(datum.d)"}], "mark": {"type": "circle", "size": 40, "opacity": 1},
                   "encoding": {
                     "x": {"field": "win", "type": "ordinal", "scale": {"type": "point", "domain": [125, 200, 400, 600], "padding": 0.53}, "axis": null},
                     "color": {"field": "d", "type": "nominal", "scale": {"domain": ["white", "animal", "repetitive", "colorful", "metallic", "house", "tools", "seating", "box", "red"], "range": ["#8dd0ca", "#14ec14", "#c4929f", "#ff0a54", "#0000f0", "#990033", "#cc00ff", "#990033", "#1a80bb", "#ff0000"]}, "legend": null}
                   }},
                  {"mark": {"type": "tick", "color": "black", "size": 36, "thickness": 2.5, "orient": "horizontal"},
                   "encoding": {
                     "x": {"field": "win", "type": "ordinal", "scale": {"type": "point", "domain": [125, 200, 400, 600], "padding": 0.53}, "axis": null},
                     "y": {"aggregate": "median", "field": "v", "type": "quantitative", "title": ["Difference correlation", "within-across"]}
                   }}
                ],
                "resolve": {"scale": {"x": "independent"}}
              }
            ],
            "spacing": 0,
            "resolve": {"scale": {"color": "independent", "x": "independent", "y": "independent"}, "legend": {"color": "independent"}}
          }
        ],
        "spacing": 22.3,
        "resolve": {"scale": {"color": "independent", "x": "independent", "y": "independent"}, "legend": {"color": "independent"}}
      }
    ],
    "spacing": 32.5,
    "resolve": {"scale": {"color": "independent", "x": "independent", "y": "independent"}, "legend": {"color": "independent"}}
  }
],
"spacing": 7,
"resolve": {"scale": {"color": "independent", "x": "independent", "y": "independent"}, "legend": {"color": "independent"}}
}
